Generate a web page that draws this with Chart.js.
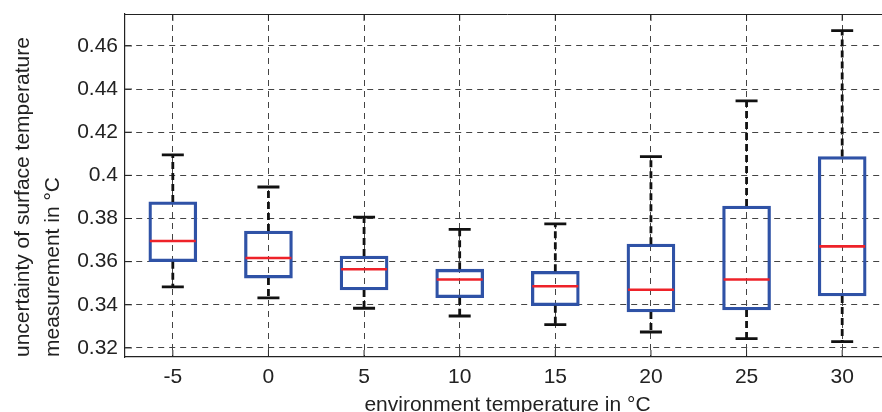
<!DOCTYPE html>
<html>
<head>
<meta charset="utf-8">
<script src="https://cdn.jsdelivr.net/npm/chart.js@4"></script>
<style>
  html, body { margin: 0; padding: 0; background: #fff; overflow: hidden; }
  #wrap { width: 890px; height: 412px; }
</style>
</head>
<body>
<div id="wrap"><canvas id="boxChart" width="890" height="412"></canvas></div>
<script>
const categories = ["-5", "0", "5", "10", "15", "20", "25", "30"];
const whiskerLow = [0.3483, 0.3432, 0.3384, 0.3348, 0.3308, 0.3274, 0.3243, 0.3229];
const q1 = [0.3600, 0.3524, 0.3469, 0.3433, 0.3396, 0.3367, 0.3376, 0.3441];
const median = [0.3696, 0.3617, 0.3565, 0.3517, 0.3486, 0.3470, 0.3517, 0.3671];
const q3 = [0.3877, 0.3742, 0.3626, 0.3565, 0.3555, 0.3681, 0.3858, 0.4087];
const whiskerHigh = [0.4095, 0.3946, 0.3806, 0.3750, 0.3775, 0.4087, 0.4345, 0.4671];
const yTicks = [0.32, 0.34, 0.36, 0.38, 0.40, 0.42, 0.44, 0.46];

const FONT = "'Liberation Sans', Arial, Helvetica, sans-serif";
const BLUE = "#2f52a6";
const RED = "#ee2229";

// whiskers, caps, medians and inward tick marks
const boxExtras = {
  id: "boxExtras",
  afterDatasetsDraw(chart) {
    const { ctx, scales: { x, y }, chartArea } = chart;
    const bars = chart.getDatasetMeta(0).data;
    ctx.save();
    categories.forEach((c, i) => {
      const cx = x.getPixelForValue(i);
      const half = bars[i].width / 2;
      // dashed whiskers
      ctx.strokeStyle = "#111";
      ctx.lineWidth = 2.8;
      ctx.setLineDash([7, 4]);
      ctx.beginPath();
      ctx.moveTo(cx, y.getPixelForValue(q3[i]));
      ctx.lineTo(cx, y.getPixelForValue(whiskerHigh[i]));
      ctx.moveTo(cx, y.getPixelForValue(q1[i]));
      ctx.lineTo(cx, y.getPixelForValue(whiskerLow[i]));
      ctx.stroke();
      // caps
      ctx.setLineDash([]);
      ctx.beginPath();
      ctx.moveTo(cx - 11, y.getPixelForValue(whiskerHigh[i]));
      ctx.lineTo(cx + 11, y.getPixelForValue(whiskerHigh[i]));
      ctx.moveTo(cx - 11, y.getPixelForValue(whiskerLow[i]));
      ctx.lineTo(cx + 11, y.getPixelForValue(whiskerLow[i]));
      ctx.stroke();
      // median
      ctx.strokeStyle = RED;
      ctx.lineWidth = 2.6;
      ctx.beginPath();
      ctx.moveTo(cx - half + 1, y.getPixelForValue(median[i]));
      ctx.lineTo(cx + half - 1, y.getPixelForValue(median[i]));
      ctx.stroke();
    });
    // inward tick marks and top border
    ctx.strokeStyle = "#222";
    ctx.lineWidth = 1;
    ctx.beginPath();
    categories.forEach((c, i) => {
      const px = x.getPixelForValue(i);
      ctx.moveTo(px, chartArea.bottom);
      ctx.lineTo(px, chartArea.bottom - 7);
      ctx.moveTo(px, chartArea.top);
      ctx.lineTo(px, chartArea.top + 7);
    });
    yTicks.forEach(v => {
      const py = y.getPixelForValue(v);
      ctx.moveTo(chartArea.left, py);
      ctx.lineTo(chartArea.left + 7, py);
    });
    ctx.moveTo(chartArea.left, chartArea.top + 0.5);
    ctx.lineTo(chartArea.right, chartArea.top + 0.5);
    ctx.stroke();
    ctx.restore();
  }
};

const ctx = document.getElementById("boxChart").getContext("2d");
const boxChart = new Chart(ctx, {
  type: "bar",
  data: {
    labels: categories,
    datasets: [
      {
        data: q1.map((v, i) => [v, q3[i]]),
        backgroundColor: "rgba(0,0,0,0)",
        borderColor: BLUE,
        borderWidth: 2.6,
        borderSkipped: false,
        barThickness: 48
      }
    ]
  },
  options: {
    responsive: false,
    animation: false,
    layout: { padding: { top: 14, left: 0, right: 0, bottom: 0 } },
    plugins: {
      legend: { display: false },
      tooltip: { enabled: false }
    },
    scales: {
      x: {
        offset: true,
        grid: { offset: false, color: "#444", lineWidth: 1, drawTicks: false },
        border: { display: true, color: "#222", width: 1.2, dash: [6, 5] },
        ticks: { color: "#222", font: { family: FONT, size: 21 }, padding: 8 },
        title: {
          display: true,
          text: "environment temperature in °C",
          color: "#222",
          font: { family: FONT, size: 21 },
          padding: { top: 0, bottom: -6 }
        },
        afterFit(scale) {
          scale.height = 55;
          scale.paddingLeft = 0;
          scale.paddingRight = 0;
        }
      },
      y: {
        min: 0.3158,
        max: 0.4748,
        afterBuildTicks(scale) { scale.ticks = yTicks.map(v => ({ value: v })); },
        grid: { color: "#444", lineWidth: 1, drawTicks: false },
        border: { display: true, color: "#222", width: 1.2, dash: [6, 5] },
        ticks: {
          color: "#222",
          font: { family: FONT, size: 21 },
          padding: 7,
          callback: v => String(+v.toFixed(2))
        },
        title: {
          display: true,
          text: ["uncertainty of surface temperature", "measurement in °C"],
          align: "start",
          color: "#222",
          font: { family: FONT, size: 21, lineHeight: 1.43 },
          padding: { top: 8, bottom: 0 }
        },
        afterFit(scale) {
          scale.width = 125;
          scale.paddingTop = 0;
          scale.paddingBottom = 0;
        }
      }
    }
  },
  plugins: [boxExtras]
});
</script>
</body>
</html>
